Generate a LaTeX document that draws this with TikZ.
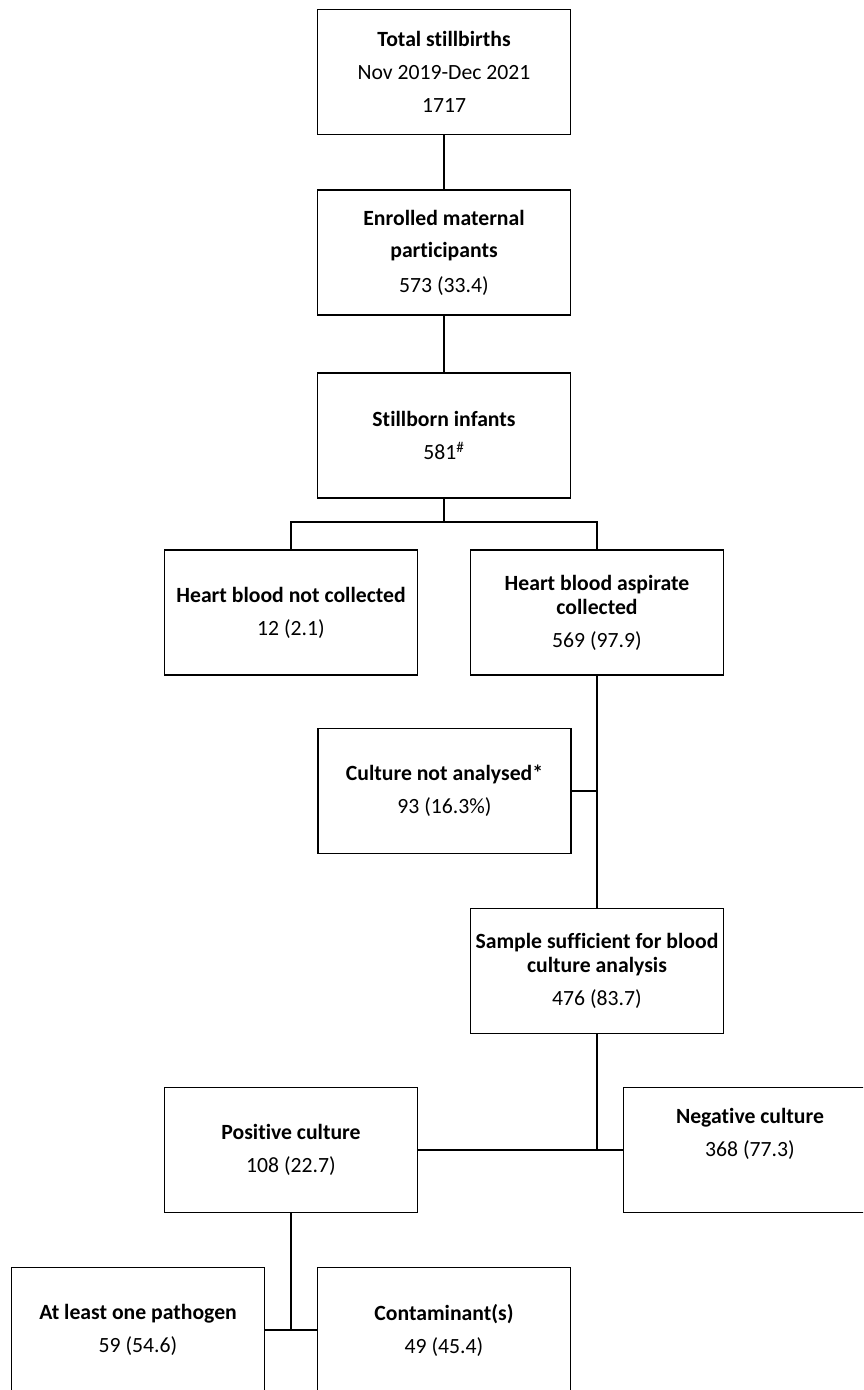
\documentclass[tikz,border=0pt]{standalone}
\usepackage{fontspec}
\setmainfont{Carlito}[Ligatures=NoCommon]
\usetikzlibrary{positioning}

\begin{document}
\begin{tikzpicture}
    [
    x=1pt, y=-1pt,
    box/.style={rectangle,draw,line width=1.8pt,minimum width=253pt,minimum height=125pt,
      inner sep=2pt,align=center,font=\fontsize{21.7}{24}\selectfont},
    link/.style={line width=1.8pt},
    ]
    \useasboundingbox (0,0) rectangle (863,1390);
    \clip (0,0) rectangle (863,1390);

    \node (tot) at (444,72) [box] {\textbf{Total stillbirths}\\[9pt]Nov 2019-Dec 2021\\[9pt]1717};
    \node (enr) [box, below=54pt of tot] {\textbf{Enrolled maternal}\\[8pt]\textbf{participants}\\[11pt]573 (33.4)};
    \node (still) [box, below=56pt of enr] {\textbf{Stillborn infants}\\[9pt]581\textsuperscript{\#}};

    \node (hbnc) at (291,612.5) [box] {\textbf{Heart blood not collected}\\[9pt]12 (2.1)};
    \node (hbac) at (597,612.5) [box] {\textbf{Heart blood aspirate}\\\textbf{collected}\\[9pt]569 (97.9)};
    \node (notan) at (444.5,791) [box] {\textbf{Culture not analysed*}\\[9pt]93 (16.3\%)};
    \node (suff) at (597,971) [box] {\textbf{Sample sufficient for blood}\\\textbf{culture analysis}\\[9pt]476 (83.7)};
    \node (pos) at (291,1150) [box] {\textbf{Positive culture}\\[9pt]108 (22.7)};
    \node (neg) at (750,1150) [box, text depth=36pt] {\textbf{Negative culture}\\[9pt]368 (77.3)};
    \node (path) at (138,1330) [box] {\textbf{At least one pathogen}\\[9pt]59 (54.6)};
    \node (cont) at (444,1330) [box] {\textbf{Contaminant(s)}\\[9pt]49 (45.4)};

    \coordinate (split) at (444,522);
    \draw [link] (tot) -- (enr);
    \draw [link] (enr) -- (still);
    \draw [link] (still) -- (split);
    \draw [link] (hbnc.north) |- (split) -| (hbac.north);
    \draw [link] (hbac) -- (suff);
    \draw [link] (notan.east) -- (notan.east -| hbac.south);
    \draw [link] (suff.south) -- (suff.south |- pos.east);
    \draw [link] (pos.east) -- (neg.west);
    \draw [link] (pos.south) -- (pos.south |- path.east);
    \draw [link] (path.east) -- (cont.west);
\end{tikzpicture}
\end{document}
